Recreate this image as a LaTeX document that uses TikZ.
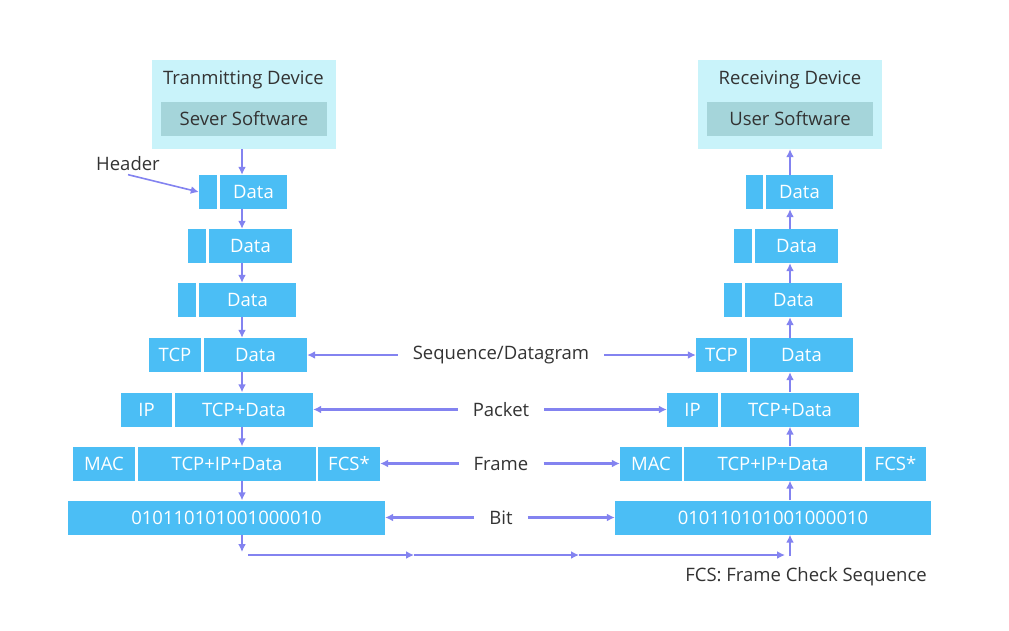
\documentclass[tikz,border=0pt]{standalone}
\usepackage{fontspec}
\setmainfont{Open Sans}
\usepackage{tikz}
\usetikzlibrary{arrows.meta}

\definecolor{pktblue}{HTML}{4BBEF5}
\definecolor{devcyan}{HTML}{C9F3FA}
\definecolor{softgray}{HTML}{A5D5DA}
\definecolor{arrowblue}{HTML}{8383F0}
\definecolor{txtgray}{HTML}{333333}

\begin{document}
\begin{tikzpicture}[x=1pt, y=-1pt, >={Latex[length=8pt,width=8pt]},
    font=\fontsize{18.5}{22}\selectfont,
    pkt/.style={fill=pktblue, text=white, minimum height=34, inner sep=0pt},
    dev/.style={fill=devcyan, minimum width=184, minimum height=89, inner sep=0pt},
    soft/.style={fill=softgray, text=txtgray, minimum width=166, minimum height=34, inner sep=0pt},
    lbl/.style={text=txtgray, inner xsep=15pt},
    arr/.style={->, draw=arrowblue, line width=2.2pt}]
    \useasboundingbox (0,0) rectangle (1009,630);

    % Devices
    \node[dev] (tdev) at (243.5,104.5) {};
    \node[text=txtgray] (ttitle) at (243.5,80) {Tranmitting Device};
    \node[soft] (tsoft) at (244,119) {Sever Software};
    \node[dev] (rdev) at (789.5,104.5) {};
    \node[text=txtgray] (rtitle) at (790,80) {Receiving Device};
    \node[soft] (rsoft) at (790,119) {User Software};

    % Transmitting side
    \node[pkt, minimum width=18] (lh1) at (208,192) {};
    \node[pkt, minimum width=67] (ld1) at (253.5,192) {Data};
    \node[pkt, minimum width=18] (lh2) at (197,246) {};
    \node[pkt, minimum width=83] (ld2) at (250.5,246) {Data};
    \node[pkt, minimum width=18] (lh3) at (187,300) {};
    \node[pkt, minimum width=97] (ld3) at (247.5,300) {Data};
    \node[pkt, minimum width=52] (ltcp) at (175,355) {TCP};
    \node[pkt, minimum width=103] (ld4) at (255.5,355) {Data};
    \node[pkt, minimum width=51] (lip) at (146.5,409.5) {IP};
    \node[pkt, minimum width=138] (ld5) at (244,409.5) {TCP+Data};
    \node[pkt, minimum width=62] (lmac) at (104,463.5) {MAC};
    \node[pkt, minimum width=178] (ld6) at (227,463.5) {TCP+IP+Data};
    \node[pkt, minimum width=62] (lfcs) at (349,463.5) {FCS*};
    \node[pkt, minimum width=317] (lbit) at (226.5,517.5) {010110101001000010};

    % Receiving side
    \node[pkt, minimum width=17] (rh1) at (754.5,192) {};
    \node[pkt, minimum width=67] (rd1) at (799.5,192) {Data};
    \node[pkt, minimum width=18] (rh2) at (743,246) {};
    \node[pkt, minimum width=83] (rd2) at (796.5,246) {Data};
    \node[pkt, minimum width=18] (rh3) at (733,300) {};
    \node[pkt, minimum width=97] (rd3) at (793.5,300) {Data};
    \node[pkt, minimum width=51] (rtcp) at (721.5,355) {TCP};
    \node[pkt, minimum width=103] (rd4) at (801.5,355) {Data};
    \node[pkt, minimum width=51] (rip) at (692.5,409.5) {IP};
    \node[pkt, minimum width=138] (rd5) at (790,409.5) {TCP+Data};
    \node[pkt, minimum width=62] (rmac) at (651,463.5) {MAC};
    \node[pkt, minimum width=178] (rd6) at (773,463.5) {TCP+IP+Data};
    \node[pkt, minimum width=61] (rfcs) at (895.5,463.5) {FCS*};
    \node[pkt, minimum width=316] (rbit) at (773,517.5) {010110101001000010};

    % Labels
    \node[lbl] (seq) at (501,355) {Sequence/Datagram};
    \node[lbl] (packet) at (501,409.5) {Packet};
    \node[lbl] (frame) at (501,463.5) {Frame};
    \node[lbl] (bit) at (501,517.5) {Bit};
    \node[text=txtgray] (hdr) at (128,164) {Header};
    \node[text=txtgray] (fcsnote) at (806,577) {FCS: Frame Check Sequence};

    % Columns and bottom line
    \coordinate (lx) at (242,0);
    \coordinate (rx) at (790,0);
    \coordinate (ldown) at (242,552);
    \coordinate (b0) at (248,555);
    \coordinate (b1) at (414,555);
    \coordinate (b2) at (579,555);
    \coordinate (b3) at (785,555);
    \coordinate (rup) at (790,556);

    % Arrows down
    \draw[arr] (lx |- tdev.south) -- (lx |- ld1.north);
    \draw[arr] (lx |- ld1.south) -- (lx |- ld2.north);
    \draw[arr] (lx |- ld2.south) -- (lx |- ld3.north);
    \draw[arr] (lx |- ld3.south) -- (lx |- ld4.north);
    \draw[arr] (lx |- ld4.south) -- (lx |- ld5.north);
    \draw[arr] (lx |- ld5.south) -- (lx |- ld6.north);
    \draw[arr] (lx |- ld6.south) -- (lx |- lbit.north);
    \draw[arr] (lx |- lbit.south) -- (ldown);

    % Bottom line
    \draw[arr] (b0) -- (b1);
    \draw[arr] (b1) -- (b2);
    \draw[arr] (b2) -- (b3);

    % Arrows up
    \draw[arr] (rup) -- (rx |- rbit.south);
    \draw[arr] (rx |- rbit.north) -- (rx |- rd6.south);
    \draw[arr] (rx |- rd6.north) -- (rx |- rd5.south);
    \draw[arr] (rx |- rd5.north) -- (rx |- rd4.south);
    \draw[arr] (rx |- rd4.north) -- (rx |- rd3.south);
    \draw[arr] (rx |- rd3.north) -- (rx |- rd2.south);
    \draw[arr] (rx |- rd2.north) -- (rx |- rd1.south);
    \draw[arr] (rx |- rd1.north) -- (rx |- rdev.south);

    % Label arrows
    \draw[arr] (seq) -- (ld4.east);
    \draw[arr] (seq) -- (rtcp.west);
    \draw[arr] (packet) -- (ld5.east);
    \draw[arr] (packet) -- (rip.west);
    \draw[arr] (frame) -- (lfcs.east);
    \draw[arr] (frame) -- (rmac.west);
    \draw[arr] (bit) -- (lbit.east);
    \draw[arr] (bit) -- (rbit.west);
    \draw[arr, line width=1.6pt] (hdr.south) -- (lh1.west);
\end{tikzpicture}
\end{document}
